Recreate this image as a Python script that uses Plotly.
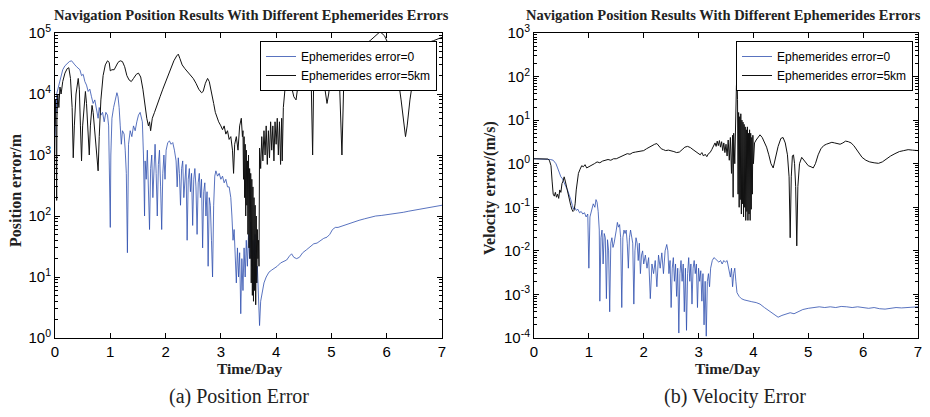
import plotly.graph_objects as go

# ---------------- data (day, value) ----------------
pos_ephem0_pts = [
    (0.00, 2.0e3), (0.01, 8.0e3), (0.02, 5.0e3), (0.03, 1.0e4), (0.05, 1.2e4), (0.08, 1.6e4),
    (0.11, 2.0e4), (0.14, 2.5e4), (0.18, 2.9e4), (0.22, 3.2e4), (0.26, 3.4e4), (0.30, 3.5e4),
    (0.33, 3.3e4), (0.36, 3.0e4), (0.39, 2.8e4), (0.42, 2.6e4), (0.45, 2.5e4), (0.48, 2.0e4),
    (0.51, 2.1e4), (0.54, 1.6e4), (0.57, 1.4e4), (0.60, 1.1e4), (0.63, 1.2e4), (0.66, 9.0e3),
    (0.69, 7.0e3), (0.72, 8.0e3), (0.75, 5.5e3), (0.78, 4.0e3), (0.80, 6.0e3), (0.83, 4.5e3),
    (0.86, 5.0e3), (0.89, 3.5e3), (0.92, 5.0e3), (0.95, 4.5e3), (0.97, 3.0e3), (0.99, 5.0e2),
    (1.00, 6.5e1), (1.01, 1.0e3), (1.03, 4.0e3), (1.06, 6.0e3), (1.09, 8.0e3), (1.12, 1.05e4),
    (1.14, 9.0e3), (1.16, 6.0e3), (1.18, 3.0e3), (1.20, 1.5e3), (1.22, 2.5e3), (1.25, 2.2e3),
    (1.27, 1.2e3), (1.29, 5.0e2), (1.31, 2.5e1), (1.33, 1.5e3), (1.36, 2.5e3), (1.39, 2.0e3),
    (1.42, 3.0e3), (1.45, 2.5e3), (1.48, 3.5e3), (1.51, 4.5e3), (1.54, 5.0e3), (1.56, 4.0e3),
    (1.58, 3.5e3), (1.60, 1.0e3), (1.61, 3.0e2), (1.62, 1.0e2), (1.63, 8.0e2), (1.65, 4.0e2),
    (1.67, 1.2e3), (1.69, 3.0e2), (1.71, 6.0e1), (1.73, 6.0e2), (1.75, 1.0e3), (1.77, 2.0e2),
    (1.79, 8.0e2), (1.81, 1.5e3), (1.83, 5.0e2), (1.85, 1.0e2), (1.87, 7.0e2), (1.89, 1.2e3),
    (1.91, 3.0e2), (1.93, 6.0e1), (1.95, 5.0e2), (1.97, 1.0e3), (1.99, 4.0e2), (2.01, 1.2e3),
    (2.04, 1.6e3), (2.07, 1.7e3), (2.10, 1.5e3), (2.13, 1.6e3), (2.16, 1.2e3), (2.19, 8.0e2),
    (2.21, 3.0e2), (2.23, 9.0e2), (2.25, 5.0e2), (2.27, 1.5e2), (2.29, 6.0e2), (2.31, 8.0e2),
    (2.33, 2.0e2), (2.35, 5.0e2), (2.37, 7.0e2), (2.39, 4.0e1), (2.41, 4.0e2), (2.43, 6.0e2),
    (2.45, 2.5e2), (2.47, 5.0e2), (2.49, 7.0e1), (2.51, 4.0e2), (2.53, 6.0e2), (2.55, 3.0e2),
    (2.57, 5.0e1), (2.59, 3.5e2), (2.61, 5.0e2), (2.63, 2.0e2), (2.65, 4.0e2), (2.67, 3.0e1),
    (2.69, 2.5e2), (2.71, 3.5e2), (2.73, 1.0e2), (2.75, 2.5e2), (2.77, 1.5e1), (2.79, 2.0e2),
    (2.81, 1.5e2), (2.83, 4.0e1), (2.85, 1.0e1), (2.87, 1.5e2), (2.89, 4.5e2), (2.91, 5.5e2),
    (2.94, 4.5e2), (2.97, 5.0e2), (3.00, 4.0e2), (3.03, 4.5e2), (3.06, 3.5e2), (3.09, 4.0e2),
    (3.12, 3.0e2), (3.15, 3.0e2), (3.18, 2.0e2), (3.20, 1.0e2), (3.22, 4.0e1), (3.24, 6.0e1),
    (3.26, 2.0e1), (3.28, 8.0e0), (3.30, 3.0e1), (3.32, 1.0e1), (3.34, 2.5e1), (3.36, 2.5e0),
    (3.38, 2.0e1), (3.40, 6.0e0), (3.42, 3.0e1), (3.44, 1.0e1), (3.46, 4.0e1), (3.48, 1.5e1),
    (3.50, 5.0e1), (3.52, 2.0e1), (3.54, 8.0e1), (3.56, 1.5e1), (3.58, 4.0e1), (3.60, 2.0e1),
    (3.62, 5.0e1), (3.64, 8.0e0), (3.66, 1.5e1), (3.68, 5.0e0), (3.70, 1.6e0), (3.72, 4.0e0),
    (3.75, 6.0e0), (3.78, 8.0e0), (3.82, 1.0e1), (3.87, 1.2e1), (3.92, 1.3e1), (3.97, 1.4e1),
    (4.02, 1.5e1), (4.08, 1.7e1), (4.14, 1.8e1), (4.19, 1.9e1), (4.24, 2.2e1), (4.28, 2.4e1),
    (4.32, 2.1e1), (4.37, 2.0e1), (4.42, 2.1e1), (4.48, 2.5e1), (4.55, 2.8e1), (4.62, 3.2e1),
    (4.68, 3.5e1), (4.74, 3.6e1), (4.80, 4.0e1), (4.86, 4.3e1), (4.92, 4.5e1), (4.97, 5.0e1),
    (5.02, 6.0e1), (5.07, 6.5e1), (5.12, 6.5e1), (5.18, 6.8e1), (5.25, 7.0e1), (5.32, 7.5e1),
    (5.40, 8.0e1), (5.50, 8.5e1), (5.60, 9.0e1), (5.70, 9.5e1), (5.80, 1.0e2), (5.90, 1.02e2),
    (6.00, 1.05e2), (6.10, 1.08e2), (6.20, 1.1e2), (6.30, 1.15e2), (6.40, 1.2e2), (6.50, 1.25e2),
    (6.60, 1.3e2), (6.70, 1.35e2), (6.80, 1.4e2), (6.90, 1.45e2), (7.00, 1.5e2),
]

pos_ephem5km_pts = [
    (0.00, 3.0e3), (0.01, 8.0e3), (0.02, 2.0e3), (0.03, 1.8e2), (0.035, 4.0e3), (0.05, 1.0e4),
    (0.07, 6.0e3), (0.09, 1.3e4), (0.11, 1.0e4), (0.14, 1.6e4), (0.18, 2.2e4), (0.22, 2.6e4),
    (0.25, 2.7e4), (0.28, 1.8e4), (0.31, 6.0e3), (0.33, 9.0e2), (0.35, 3.0e3), (0.38, 1.0e4),
    (0.42, 1.8e4), (0.44, 1.2e4), (0.46, 3.0e3), (0.48, 8.0e2), (0.50, 3.0e3), (0.53, 8.0e3),
    (0.55, 1.1e4), (0.57, 7.0e3), (0.60, 2.0e3), (0.62, 1.0e3), (0.64, 3.0e3), (0.67, 6.5e3),
    (0.69, 5.0e3), (0.72, 2.5e3), (0.76, 1.0e3), (0.78, 5.5e2), (0.80, 2.0e3), (0.83, 8.0e3),
    (0.87, 2.0e4), (0.91, 3.0e4), (0.95, 3.5e4), (0.98, 3.3e4), (1.00, 2.4e4), (1.03, 2.5e4),
    (1.07, 2.5e4), (1.10, 2.8e4), (1.14, 3.3e4), (1.18, 3.5e4), (1.22, 3.4e4), (1.26, 2.8e4),
    (1.30, 2.0e4), (1.34, 1.7e4), (1.38, 1.6e4), (1.42, 1.8e4), (1.47, 2.1e4), (1.51, 2.2e4),
    (1.55, 1.9e4), (1.59, 1.2e4), (1.63, 6.0e3), (1.66, 4.0e3), (1.69, 3.0e3), (1.71, 3.5e3),
    (1.73, 2.5e3), (1.76, 4.0e3), (1.80, 5.0e3), (1.85, 7.0e3), (1.90, 9.0e3), (1.95, 1.2e4),
    (2.00, 1.6e4), (2.05, 2.1e4), (2.10, 2.8e4), (2.15, 3.5e4), (2.20, 4.2e4), (2.23, 4.5e4),
    (2.26, 3.8e4), (2.30, 3.0e4), (2.35, 2.6e4), (2.40, 2.3e4), (2.45, 2.1e4), (2.50, 1.8e4),
    (2.55, 1.5e4), (2.60, 1.2e4), (2.65, 1.05e4), (2.68, 1.1e4), (2.72, 1.5e4), (2.76, 1.8e4),
    (2.79, 1.6e4), (2.83, 1.1e4), (2.87, 7.0e3), (2.90, 5.0e3), (2.93, 4.0e3), (2.96, 3.5e3),
    (3.00, 3.0e3), (3.03, 2.6e3), (3.06, 3.0e3), (3.09, 2.2e3), (3.12, 2.5e3), (3.15, 1.8e3),
    (3.18, 2.0e3), (3.21, 1.2e3), (3.23, 5.0e2), (3.25, 1.5e3), (3.28, 2.0e3), (3.31, 1.2e3),
    (3.34, 3.0e3), (3.37, 4.0e3), (3.39, 2.0e3), (3.40, 2.5e3), (3.41, 4.0e2), (3.42, 2.0e3),
    (3.43, 2.0e2), (3.44, 1.5e3), (3.45, 1.0e2), (3.46, 1.2e3), (3.47, 1.5e2), (3.48, 8.0e2),
    (3.49, 5.0e1), (3.50, 1.0e3), (3.51, 3.0e1), (3.52, 6.0e2), (3.53, 2.0e1), (3.54, 5.0e2),
    (3.55, 8.0e0), (3.56, 4.0e2), (3.57, 5.0e0), (3.58, 3.0e2), (3.59, 4.0e0), (3.60, 2.0e2),
    (3.61, 6.0e0), (3.62, 1.5e2), (3.63, 3.5e0), (3.64, 1.0e2), (3.65, 8.0e0), (3.66, 6.0e1),
    (3.67, 2.0e1), (3.68, 4.0e1), (3.69, 1.5e1), (3.70, 1.3e3), (3.72, 6.0e2), (3.74, 2.0e3),
    (3.76, 8.0e2), (3.78, 2.5e3), (3.80, 1.0e3), (3.82, 3.0e3), (3.84, 7.0e2), (3.86, 2.5e3),
    (3.88, 9.0e2), (3.90, 3.5e3), (3.92, 1.2e3), (3.94, 3.0e3), (3.96, 8.0e2), (3.98, 3.5e3),
    (4.00, 1.5e3), (4.02, 4.0e3), (4.04, 1.0e3), (4.06, 3.5e3), (4.08, 7.0e2), (4.10, 4.0e3),
    (4.11, 8.0e2), (4.13, 6.0e3), (4.16, 1.2e4), (4.20, 1.5e4), (4.24, 1.6e4), (4.28, 1.3e4),
    (4.32, 9.0e3), (4.36, 8.0e3), (4.40, 1.5e4), (4.44, 3.0e4), (4.48, 4.0e4), (4.52, 4.5e4),
    (4.56, 4.0e4), (4.60, 3.2e4), (4.63, 2.5e4), (4.66, 1.0e3), (4.68, 2.0e4), (4.72, 4.0e4),
    (4.76, 5.0e4), (4.80, 4.0e4), (4.85, 2.0e4), (4.89, 1.0e4), (4.92, 7.0e3), (4.95, 1.0e4),
    (4.99, 2.0e4), (5.04, 3.0e4), (5.10, 2.0e4), (5.15, 1.2e4), (5.19, 1.0e3), (5.22, 1.2e4),
    (5.26, 2.5e4), (5.32, 4.0e4), (5.40, 5.5e4), (5.50, 6.0e4), (5.60, 6.5e4), (5.70, 7.5e4),
    (5.80, 9.0e4), (5.88, 1.05e5), (5.96, 9.0e4), (6.05, 6.0e4), (6.12, 4.0e4), (6.20, 2.0e4),
    (6.26, 8.0e3), (6.31, 3.0e3), (6.34, 2.0e3), (6.37, 3.0e3), (6.42, 8.0e3), (6.50, 2.5e4),
    (6.58, 4.5e4), (6.66, 6.0e4), (6.75, 7.0e4), (6.85, 7.5e4), (6.95, 8.0e4), (7.00, 8.5e4),
]

vel_ephem0_pts = [
    (0.00, 1.3), (0.05, 1.3), (0.10, 1.28), (0.15, 1.3), (0.20, 1.28), (0.25, 1.3), (0.30, 1.25),
    (0.35, 1.2), (0.40, 1.0), (0.43, 0.8), (0.46, 0.6), (0.49, 0.5), (0.52, 0.45), (0.55, 0.35),
    (0.58, 0.3), (0.61, 0.25), (0.64, 0.2), (0.67, 0.15), (0.70, 0.11), (0.72, 0.09), (0.74, 0.1),
    (0.77, 0.085), (0.80, 0.09), (0.83, 0.075), (0.86, 0.08), (0.89, 0.07), (0.92, 0.075),
    (0.95, 0.06), (0.98, 0.07), (1.00, 0.004), (1.02, 0.06), (1.05, 0.09), (1.08, 0.12),
    (1.11, 0.1), (1.13, 0.15), (1.15, 0.13), (1.17, 0.08), (1.19, 0.03), (1.20, 0.0007),
    (1.22, 0.02), (1.24, 0.03), (1.26, 0.005), (1.28, 0.025), (1.30, 0.02), (1.32, 0.0008),
    (1.34, 0.018), (1.36, 0.01), (1.38, 0.0004), (1.40, 0.015), (1.42, 0.02), (1.44, 0.012),
    (1.46, 0.015), (1.48, 0.02), (1.50, 0.03), (1.52, 0.045), (1.54, 0.035), (1.56, 0.04),
    (1.58, 0.02), (1.60, 0.0005), (1.62, 0.02), (1.64, 0.03), (1.66, 0.025), (1.68, 0.03),
    (1.70, 0.015), (1.72, 0.004), (1.74, 0.02), (1.76, 0.03), (1.78, 0.02), (1.80, 0.015),
    (1.82, 0.0006), (1.84, 0.01), (1.86, 0.02), (1.88, 0.015), (1.90, 0.006), (1.92, 0.015),
    (1.94, 0.003), (1.96, 0.008), (1.98, 0.01), (2.00, 0.005), (2.03, 0.008), (2.06, 0.004),
    (2.09, 0.007), (2.12, 0.0008), (2.15, 0.005), (2.18, 0.003), (2.21, 0.006), (2.24, 0.0015),
    (2.27, 0.008), (2.30, 0.004), (2.33, 0.009), (2.36, 0.003), (2.39, 0.01), (2.42, 0.014),
    (2.44, 0.01), (2.46, 0.003), (2.48, 0.006), (2.50, 0.0005), (2.52, 0.004), (2.54, 0.007),
    (2.56, 0.002), (2.58, 0.005), (2.60, 0.0009), (2.62, 0.004), (2.64, 0.00013), (2.66, 0.003),
    (2.68, 0.006), (2.70, 0.002), (2.72, 0.005), (2.74, 0.0004), (2.76, 0.004), (2.78, 0.00015),
    (2.80, 0.003), (2.82, 0.007), (2.84, 0.002), (2.86, 0.005), (2.88, 0.0006), (2.90, 0.004),
    (2.92, 0.006), (2.94, 0.003), (2.96, 0.005), (2.98, 0.0005), (3.00, 0.004), (3.02, 0.002),
    (3.04, 0.0035), (3.06, 0.0007), (3.08, 0.003), (3.10, 0.0002), (3.12, 0.002), (3.14, 0.00011),
    (3.16, 0.002), (3.18, 0.003), (3.20, 0.0015), (3.22, 0.004), (3.25, 0.006), (3.28, 0.007),
    (3.31, 0.0065), (3.34, 0.006), (3.37, 0.0055), (3.40, 0.006), (3.43, 0.005), (3.46, 0.006),
    (3.49, 0.0055), (3.52, 0.006), (3.55, 0.004), (3.58, 0.0025), (3.60, 0.004), (3.62, 0.0015),
    (3.64, 0.003), (3.66, 0.004), (3.68, 0.002), (3.70, 0.0011), (3.74, 0.0009), (3.78, 0.0008),
    (3.83, 0.00075), (3.90, 0.0007), (3.97, 0.00068), (4.05, 0.00065), (4.12, 0.0006),
    (4.20, 0.0005), (4.28, 0.00042), (4.36, 0.00035), (4.45, 0.0003), (4.52, 0.00033),
    (4.60, 0.00035), (4.67, 0.00038), (4.74, 0.00036), (4.82, 0.0004), (4.90, 0.00045),
    (5.00, 0.00048), (5.10, 0.0005), (5.20, 0.00052), (5.30, 0.0005), (5.40, 0.00052),
    (5.50, 0.0005), (5.60, 0.00053), (5.70, 0.00052), (5.80, 0.0005), (5.90, 0.00052),
    (6.00, 0.0005), (6.10, 0.00048), (6.20, 0.0005), (6.30, 0.00047), (6.40, 0.00046),
    (6.50, 0.00048), (6.60, 0.0005), (6.70, 0.00049), (6.80, 0.0005), (6.90, 0.00052),
    (7.00, 0.00052),
]

vel_ephem5km_pts = [
    (0.00, 1.3), (0.05, 1.3), (0.10, 1.28), (0.15, 1.3), (0.20, 1.27), (0.25, 1.28), (0.28, 1.2),
    (0.31, 0.9), (0.33, 0.4), (0.35, 0.2), (0.37, 0.18), (0.39, 0.22), (0.41, 0.17), (0.43, 0.2),
    (0.45, 0.16), (0.47, 0.25), (0.49, 0.22), (0.51, 0.35), (0.53, 0.4), (0.55, 0.5), (0.57, 0.4),
    (0.59, 0.3), (0.61, 0.25), (0.63, 0.2), (0.65, 0.15), (0.67, 0.11), (0.69, 0.09), (0.71, 0.08),
    (0.73, 0.085), (0.75, 0.12), (0.77, 0.25), (0.79, 0.45), (0.81, 0.6), (0.84, 0.75), (0.87, 0.9),
    (0.90, 0.85), (0.93, 0.95), (0.96, 0.8), (1.00, 0.85), (1.05, 0.9), (1.10, 1.0), (1.15, 1.1),
    (1.20, 1.05), (1.25, 1.15), (1.30, 1.2), (1.35, 1.25), (1.40, 1.2), (1.45, 1.3), (1.50, 1.3),
    (1.55, 1.4), (1.60, 1.45), (1.65, 1.6), (1.70, 1.7), (1.75, 1.65), (1.80, 1.8), (1.85, 1.85),
    (1.90, 1.9), (1.95, 2.0), (2.00, 2.0), (2.05, 2.2), (2.10, 2.4), (2.15, 2.6), (2.20, 2.8),
    (2.24, 2.9), (2.28, 2.5), (2.32, 2.2), (2.36, 2.1), (2.40, 2.0), (2.45, 2.05), (2.50, 2.0),
    (2.55, 1.9), (2.60, 1.8), (2.65, 1.85), (2.70, 2.1), (2.75, 2.4), (2.80, 2.5), (2.85, 2.35),
    (2.90, 2.1), (2.95, 1.9), (3.00, 1.75), (3.03, 1.6), (3.06, 1.8), (3.09, 1.5), (3.12, 1.65),
    (3.15, 1.45), (3.18, 1.7), (3.21, 1.8), (3.24, 2.1), (3.27, 2.5), (3.30, 3.0), (3.32, 2.5),
    (3.34, 3.3), (3.36, 2.6), (3.38, 3.4), (3.40, 2.4), (3.42, 3.2), (3.44, 2.0), (3.46, 3.0),
    (3.48, 1.8), (3.50, 2.8), (3.52, 1.5), (3.54, 3.5), (3.56, 1.2), (3.58, 4.0), (3.60, 0.6),
    (3.62, 4.5), (3.63, 0.17), (3.64, 5.0), (3.66, 1.0), (3.67, 8.0), (3.68, 20.0), (3.69, 60.0),
    (3.70, 110.0), (3.71, 30.0), (3.72, 0.2), (3.73, 15.0), (3.74, 0.1), (3.75, 12.0), (3.76, 0.15),
    (3.77, 14.0), (3.78, 0.07), (3.79, 10.0), (3.80, 0.12), (3.81, 9.0), (3.82, 0.06), (3.83, 8.0),
    (3.84, 0.1), (3.85, 7.0), (3.86, 0.05), (3.87, 6.0), (3.88, 0.08), (3.89, 7.0), (3.90, 0.05),
    (3.91, 5.0), (3.92, 0.07), (3.93, 6.0), (3.94, 0.05), (3.95, 5.0), (3.96, 0.09), (3.97, 4.0),
    (3.98, 0.2), (3.99, 4.5), (4.00, 1.0), (4.02, 3.0), (4.05, 3.5), (4.08, 4.0), (4.12, 4.6),
    (4.16, 4.0), (4.20, 3.0), (4.24, 2.4), (4.28, 1.6), (4.32, 1.0), (4.36, 0.8), (4.40, 1.3),
    (4.45, 2.5), (4.50, 3.8), (4.54, 4.0), (4.58, 3.0), (4.62, 1.6), (4.65, 0.5), (4.67, 0.02),
    (4.69, 0.5), (4.71, 1.5), (4.73, 1.6), (4.75, 1.0), (4.77, 0.3), (4.79, 0.013), (4.81, 0.3),
    (4.84, 1.0), (4.88, 1.4), (4.92, 1.2), (4.96, 1.0), (5.00, 0.9), (5.05, 0.85), (5.09, 0.8),
    (5.13, 1.0), (5.18, 1.6), (5.23, 2.2), (5.28, 2.6), (5.33, 2.8), (5.38, 2.9), (5.43, 3.1),
    (5.48, 3.0), (5.53, 2.9), (5.58, 2.8), (5.63, 3.0), (5.68, 3.3), (5.73, 3.2), (5.78, 3.0),
    (5.83, 2.6), (5.88, 2.1), (5.93, 1.7), (5.98, 1.4), (6.05, 1.2), (6.12, 1.1), (6.20, 1.05),
    (6.28, 1.02), (6.35, 1.1), (6.42, 1.3), (6.50, 1.5), (6.58, 1.7), (6.66, 1.9), (6.74, 2.0),
    (6.82, 2.1), (6.90, 2.05), (7.00, 2.0),
]

series_names = ["Ephemerides error=0", "Ephemerides error=5km"]
day_ticks = [0, 1, 2, 3, 4, 5, 6, 7]
pos_decades = [0, 1, 2, 3, 4, 5]
vel_decades = [-4, -3, -2, -1, 0, 1, 2, 3]
plot_titles = ["Navigation Position Results With Different Ephemerides Errors"] * 2
y_titles = ["Position error/m", "Velocity error/(m/s)"]
x_title = "Time/Day"
captions = ["(a) Position Error", "(b) Velocity Error"]

# ---------------- styling ----------------
W, H = 930, 417
BLUE = "#2f4fae"
BLACK = "#111111"
SANS = "Liberation Sans, Arial, sans-serif"
SERIF = "Liberation Serif, Times New Roman, serif"


def unzip(pts):
    return [p[0] for p in pts], [p[1] for p in pts]


def px_x(v):
    return v / W


def px_y(v):
    return 1 - v / H


fig = go.Figure()
panels = [
    (pos_ephem0_pts, pos_ephem5km_pts, "x", "y", "legend"),
    (vel_ephem0_pts, vel_ephem5km_pts, "x2", "y2", "legend2"),
]
for p0, p5, xa, ya, lg in panels:
    for pts, name, col, w in ((p0, series_names[0], BLUE, 0.8), (p5, series_names[1], BLACK, 1.0)):
        xs, ys = unzip(pts)
        fig.add_trace(go.Scatter(x=xs, y=ys, mode="lines", name=name, xaxis=xa, yaxis=ya,
                                 legend=lg, line=dict(color=col, width=w)))

common_x = dict(range=[0, 7], tickmode="array", tickvals=day_ticks, ticks="inside", ticklen=5,
                tickcolor="black", mirror="ticks", showline=True, linecolor="black", linewidth=1,
                showgrid=False, zeroline=False, automargin=False,
                tickfont=dict(family=SANS, size=15, color="black"))


def log_axis(decades):
    tv = [10.0 ** d for d in decades]
    tt = ["10<sup>%d</sup>" % d for d in decades]
    minor_vals = [k * 10.0 ** d for d in decades[:-1] for k in range(2, 10)]
    return dict(type="log", range=[decades[0], decades[-1]], tickmode="array", tickvals=tv,
                ticktext=tt, ticks="inside", ticklen=5, tickcolor="black", mirror="ticks",
                showline=True, linecolor="black", linewidth=1, showgrid=False, zeroline=False,
                automargin=False, tickfont=dict(family=SANS, size=15, color="black"),
                minor=dict(tickmode="array", tickvals=minor_vals, ticks="inside", ticklen=3,
                           tickcolor="black", showgrid=False))


ydom = [px_y(338), px_y(33)]
legend_style = dict(xanchor="right", yanchor="top", bgcolor="white", bordercolor="black",
                    borderwidth=1, font=dict(family=SANS, size=12, color="black"),
                    tracegroupgap=0, itemwidth=30)
fig.update_layout(
    width=W, height=H, margin=dict(l=0, r=0, t=0, b=0, autoexpand=False),
    paper_bgcolor="white", plot_bgcolor="white",
    xaxis=dict(domain=[px_x(55), px_x(442)], anchor="y", **common_x),
    yaxis=dict(domain=ydom, anchor="x", **log_axis(pos_decades)),
    xaxis2=dict(domain=[px_x(534), px_x(918)], anchor="y2", **common_x),
    yaxis2=dict(domain=ydom, anchor="x2", **log_axis(vel_decades)),
    legend=dict(x=px_x(437), y=px_y(41), **legend_style),
    legend2=dict(x=px_x(913), y=px_y(41), **legend_style),
    showlegend=True,
)

ann = []
for cx, t in ((251, plot_titles[0]), (723, plot_titles[1])):
    ann.append(dict(x=px_x(cx), y=px_y(15), text="<b>%s</b>" % t, showarrow=False,
                    xref="paper", yref="paper", xanchor="center", yanchor="middle",
                    font=dict(family=SERIF, size=14.5, color="#222222")))
for cx, cy, t in ((15, 190, y_titles[0]), (490, 188, y_titles[1])):
    ann.append(dict(x=px_x(cx), y=px_y(cy), text="<b>%s</b>" % t, showarrow=False, textangle=-90,
                    xref="paper", yref="paper", xanchor="center", yanchor="middle",
                    font=dict(family=SERIF, size=16, color="#222222")))
for cx in (250, 727):
    ann.append(dict(x=px_x(cx), y=px_y(368), text="<b>%s</b>" % x_title, showarrow=False,
                    xref="paper", yref="paper", xanchor="center", yanchor="middle",
                    font=dict(family=SERIF, size=15.5, color="#222222")))
for cx, t in ((239, captions[0]), (735, captions[1])):
    ann.append(dict(x=px_x(cx), y=px_y(396), text=t, showarrow=False,
                    xref="paper", yref="paper", xanchor="center", yanchor="middle",
                    font=dict(family=SERIF, size=20, color="#222222")))
fig.update_layout(annotations=ann)

fig.write_html("out.html")
